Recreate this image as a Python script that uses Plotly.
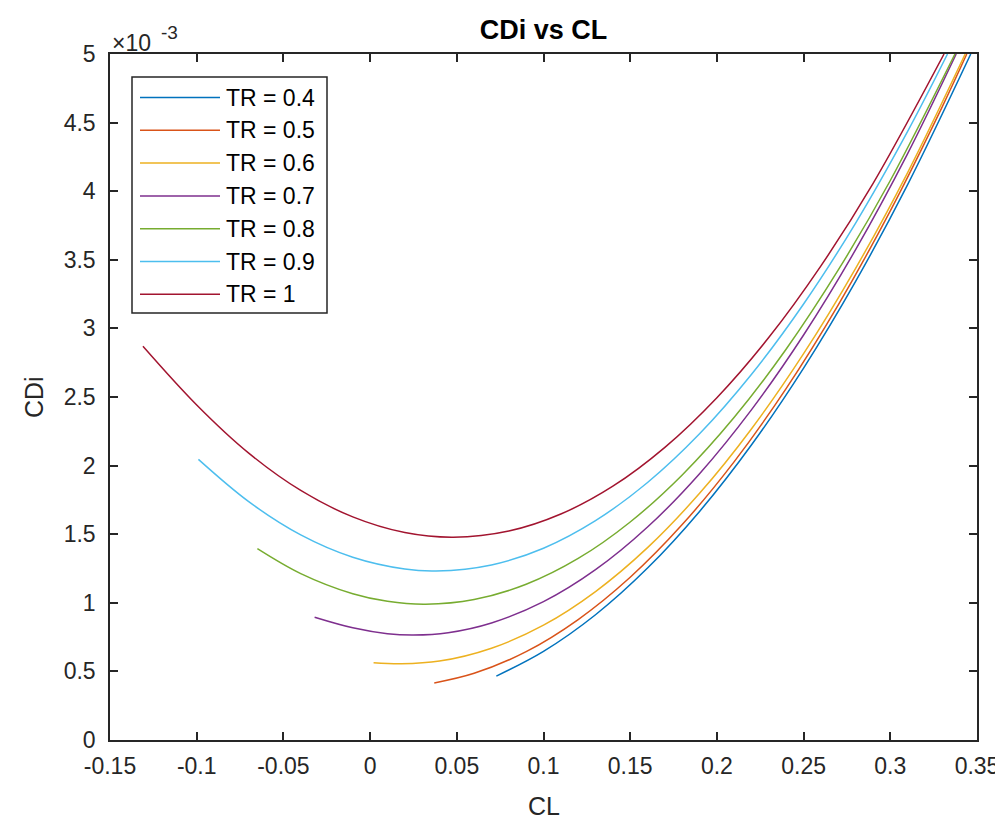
import plotly.graph_objects as go

# ---------------- data (CDi values are in units of 1e-3) ----------------
tr_values = [0.4, 0.5, 0.6, 0.7, 0.8, 0.9, 1]
colors = ["#0072BD", "#D95319", "#EDB120", "#7E2F8E", "#77AC30", "#4DBEEE", "#A2142F"]

cl_tr04 = [0.0728, 0.1, 0.13, 0.16, 0.19, 0.22, 0.25, 0.28, 0.31, 0.3464]
cdi_tr04 = [0.466, 0.646, 0.913, 1.253, 1.666, 2.152, 2.711, 3.343, 4.048, 5.0]

cl_tr05 = [0.037, 0.06, 0.09, 0.12, 0.15, 0.18, 0.21, 0.24, 0.27, 0.30, 0.33, 0.3441]
cdi_tr05 = [0.416, 0.486, 0.644, 0.878, 1.186, 1.570, 2.029, 2.563, 3.172, 3.857, 4.617, 5.0]

cl_tr06 = [0.002, 0.018, 0.04, 0.07, 0.1, 0.13, 0.16, 0.19, 0.22, 0.25, 0.28, 0.31, 0.3432]
cdi_tr06 = [0.563, 0.555, 0.575, 0.669, 0.837, 1.082, 1.402, 1.798, 2.269, 2.816, 3.438, 4.136, 5.0]

cl_tr07 = [-0.032, -0.01, 0.01, 0.025, 0.045, 0.07, 0.1, 0.13, 0.16, 0.19, 0.22, 0.25, 0.28, 0.31, 0.338]
cdi_tr07 = [0.895, 0.818, 0.775, 0.765, 0.782, 0.853, 1.008, 1.241, 1.552, 1.941, 2.408, 2.952, 3.574, 4.274, 5.0]

cl_tr08 = [-0.065, -0.04, -0.01, 0.01, 0.032, 0.06, 0.09, 0.12, 0.15, 0.18, 0.21, 0.24, 0.27, 0.30, 0.3373]
cdi_tr08 = [1.395, 1.213, 1.066, 1.011, 0.990, 1.024, 1.135, 1.323, 1.589, 1.932, 2.352, 2.850, 3.426, 4.078, 5.0]

cl_tr09 = [-0.099, -0.07, -0.04, -0.01, 0.02, 0.038, 0.07, 0.1, 0.13, 0.16, 0.19, 0.22, 0.25, 0.28, 0.31, 0.333]
cdi_tr09 = [2.045, 1.737, 1.495, 1.332, 1.246, 1.232, 1.276, 1.398, 1.599, 1.877, 2.232, 2.666, 3.178, 3.768, 4.436, 5.0]

cl_tr10 = [-0.131, -0.1, -0.07, -0.04, -0.01, 0.02, 0.048, 0.08, 0.11, 0.14, 0.17, 0.2, 0.23, 0.26, 0.29, 0.331]
cdi_tr10 = [2.87, 2.442, 2.091, 1.819, 1.626, 1.512, 1.478, 1.523, 1.647, 1.850, 2.133, 2.495, 2.935, 3.456, 4.055, 5.0]

series_cl = [cl_tr04, cl_tr05, cl_tr06, cl_tr07, cl_tr08, cl_tr09, cl_tr10]
series_cdi = [cdi_tr04, cdi_tr05, cdi_tr06, cdi_tr07, cdi_tr08, cdi_tr09, cdi_tr10]

x_tick_values = [-0.15, -0.1, -0.05, 0, 0.05, 0.1, 0.15, 0.2, 0.25, 0.3, 0.35]
x_tick_labels = ["-0.15", "-0.1", "-0.05", "0", "0.05", "0.1", "0.15", "0.2", "0.25", "0.3", "0.35"]
y_tick_values = [0, 0.5, 1, 1.5, 2, 2.5, 3, 3.5, 4, 4.5, 5]
y_tick_labels = ["0", "0.5", "1", "1.5", "2", "2.5", "3", "3.5", "4", "4.5", "5"]
y_scale = 1e-3

# ---------------- layout constants ----------------
W, H = 1003, 818
ML, MR, MT, MB = 102, 34, 46, 86
PW, PH = W - ML - MR, H - MT - MB
FONT = "Liberation Sans, Arial, Helvetica, sans-serif"
AX = "#262626"


def px_x(px):
    return (px - ML) / PW


def px_y(py):
    return (H - MB - py) / PH


fig = go.Figure()
for tr, col, xs, ys in zip(tr_values, colors, series_cl, series_cdi):
    fig.add_trace(go.Scatter(
        x=xs, y=[v * y_scale for v in ys], mode="lines",
        name=f"TR = {tr:g}", line=dict(color=col, width=1.5, shape="spline", smoothing=1.0),
        showlegend=False,
    ))

axis_common = dict(
    showline=True, linecolor=AX, linewidth=1.5, mirror="ticks",
    ticks="inside", ticklen=8, tickwidth=1.5, tickcolor=AX,
    showgrid=False, zeroline=False,
    tickfont=dict(family=FONT, size=23, color=AX),
)
fig.update_xaxes(range=[-0.15, 0.35], tickvals=x_tick_values, ticktext=x_tick_labels,
                 ticklabelstandoff=5, **axis_common)
fig.update_yaxes(range=[0, 5 * y_scale], tickvals=[v * y_scale for v in y_tick_values],
                 ticktext=y_tick_labels, ticklabelstandoff=8, **axis_common)

annotations = [
    dict(text="CL", x=0.5, y=px_y(798), xref="paper", yref="paper", showarrow=False,
         xanchor="center", yanchor="middle", font=dict(family=FONT, size=25, color=AX)),
    dict(text="CDi", x=px_x(26), y=0.5, xref="paper", yref="paper", showarrow=False,
         textangle=-90, xanchor="center", yanchor="middle",
         font=dict(family=FONT, size=25, color=AX)),
    # axis exponent label "x10^-3"
    dict(text="\u00d710", x=px_x(102), y=px_y(35), xref="paper", yref="paper",
         showarrow=False, xanchor="left", yanchor="middle",
         font=dict(family=FONT, size=23, color=AX)),
    dict(text="-3", x=px_x(151), y=px_y(24), xref="paper", yref="paper",
         showarrow=False, xanchor="left", yanchor="middle",
         font=dict(family=FONT, size=19, color=AX)),
]

# MATLAB-style legend box
shapes = [dict(type="rect", xref="paper", yref="paper",
               x0=px_x(124), x1=px_x(319), y0=px_y(305), y1=px_y(69),
               line=dict(color=AX, width=1.5), fillcolor="white", layer="above")]
entry_top, entry_step = 89.5, 32.8
for i, (tr, col) in enumerate(zip(tr_values, colors)):
    yy = px_y(entry_top + i * entry_step)
    shapes.append(dict(type="line", xref="paper", yref="paper",
                       x0=px_x(132), x1=px_x(212), y0=yy, y1=yy,
                       line=dict(color=col, width=1.5), layer="above"))
    annotations.append(dict(text=f"TR = {tr:g}", x=px_x(216), y=yy, xref="paper", yref="paper",
                            showarrow=False, xanchor="left", yanchor="middle",
                            font=dict(family=FONT, size=23, color="#000000")))

fig.update_layout(
    width=W, height=H,
    margin=dict(l=ML, r=MR, t=MT, b=MB, autoexpand=False),
    paper_bgcolor="white", plot_bgcolor="white",
    title=dict(text="<b>CDi vs CL</b>", x=0.5, xref="paper", xanchor="center",
               y=1 - 22 / H, yref="container", yanchor="middle",
               font=dict(family=FONT, size=27, color="#000000")),
    annotations=annotations, shapes=shapes,
    showlegend=False,
)

fig.write_html("out.html")
